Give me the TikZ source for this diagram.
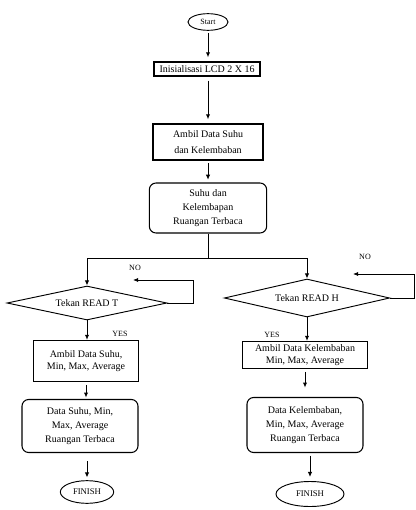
\documentclass[tikz,border=0pt]{standalone}
\usepackage{fontspec}
\setmainfont{Liberation Serif}
\usetikzlibrary{shapes.geometric,arrows.meta}
\begin{document}
\begin{tikzpicture}[x=0.75pt,y=-0.75pt,
  every node/.style={font=\fontsize{7.5}{10.5}\selectfont, inner sep=0pt},
  procbox/.style={draw, line width=0.9pt, rectangle, align=center},
  roundbox/.style={draw, line width=0.8pt, rectangle, rounded corners=5pt, align=center},
  term/.style={draw, line width=0.7pt, ellipse},
  decision/.style={draw, line width=0.7pt, diamond, aspect=5},
  flow/.style={line width=0.7pt, -{Latex[length=3.8pt,width=3.2pt]}},
  wire/.style={line width=0.7pt},
  lbl/.style={font=\fontsize{6}{7}\selectfont}
]
\useasboundingbox (0,0) rectangle (415,510);
\fill[white] (0,0) rectangle (415,510);

\node[term, minimum width=30pt, minimum height=12.5pt, font=\fontsize{6}{7}\selectfont] (start) at (208,22) {Start};
\node[procbox, minimum width=79.5pt, minimum height=10.5pt] (init) at (207,69) {Inisialisasi LCD 2 X 16};
\node[procbox, minimum width=82.5pt, minimum height=27pt, font=\fontsize{7.5}{12}\selectfont] (ambil) at (208,142) {Ambil Data Suhu\\dan Kelembaban};
\node[roundbox, minimum width=88pt, minimum height=37.5pt] (ruang) at (208,208) {Suhu dan\\Kelembapan\\Ruangan Terbaca};
\node[decision, minimum width=120pt, minimum height=25.5pt] (diaT) at (87,303) {Tekan READ T};
\node[decision, minimum width=124pt, minimum height=28.5pt] (diaH) at (307,298) {Tekan READ H};
\node[procbox, minimum width=78.75pt, minimum height=30.75pt, font=\fontsize{7.5}{9}\selectfont] (ambT) at (86,361) {Ambil Data Suhu,\\Min, Max, Average};
\node[roundbox, minimum width=87pt, minimum height=39.75pt] (dataT) at (80,426) {Data Suhu, Min,\\Max, Average\\Ruangan Terbaca};
\node[term, minimum width=40pt, minimum height=17pt, font=\fontsize{6.5}{7}\selectfont] (finT) at (87,492) {FINISH};
\node[procbox, minimum width=93.75pt, minimum height=20.25pt, font=\fontsize{7.5}{8.5}\selectfont] (ambH) at (305,355) {Ambil Data Kelembaban\\Min, Max, Average};
\node[roundbox, minimum width=87pt, minimum height=41.25pt] (dataH) at (305,425) {Data Kelembaban,\\Min, Max, Average\\Ruangan Terbaca};
\node[term, minimum width=51pt, minimum height=18.75pt, font=\fontsize{6.5}{7}\selectfont] (finH) at (310,494) {FINISH};

\node[lbl] (noT) at (135,268) {NO};
\node[lbl] (noH) at (365,257) {NO};
\node[lbl] (yesT) at (120,334) {YES};
\node[lbl] (yesH) at (272,335) {YES};

\coordinate (br) at (208,258);
\coordinate (loopT) at (133,280);
\coordinate (loopH) at (353,274);

\draw[flow, shorten <=1.5pt, shorten >=3pt] (start) -- (start.south |- init.north);
\draw[flow, shorten <=3pt, shorten >=3pt] (init.south -| ambil.north) -- (ambil.north);
\draw[flow, shorten <=2pt, shorten >=2pt] (ambil) -- (ruang);
\draw[wire] (ruang.south) -- (br);
\draw[flow] (br) -| (diaT.north);
\draw[flow] (br) -| (diaH.north);
\draw[flow] (diaT.east) -- ++(26,0) |- (loopT);
\draw[flow] (diaH.east) -- ++(24,0) |- (loopH);
\draw[flow] (diaT.south) -- (diaT.south |- ambT.north);
\draw[flow, shorten <=2pt, shorten >=1pt] (ambT.south) -- (ambT.south |- dataT.north);
\draw[flow, shorten <=6pt, shorten >=2pt] (finT.north |- dataT.south) -- (finT.north);
\draw[flow] (diaH.south) -- (diaH.south |- ambH.north);
\draw[flow, shorten <=2pt, shorten >=7pt] (ambH.south) -- (ambH.south |- dataH.north);
\draw[flow, shorten <=2pt, shorten >=3pt] (finH.north |- dataH.south) -- (finH.north);
\end{tikzpicture}
\end{document}
